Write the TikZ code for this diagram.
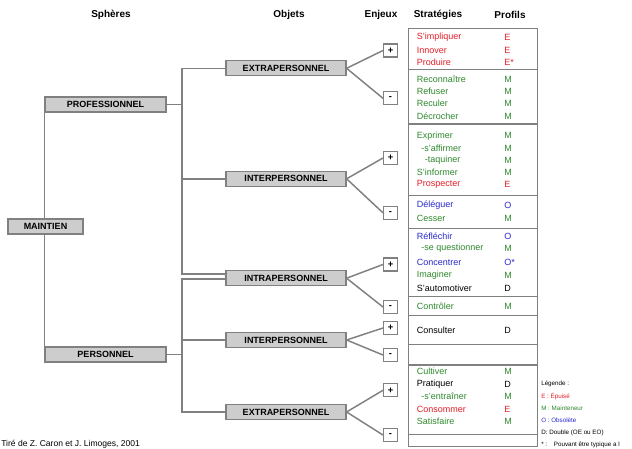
\documentclass[tikz,border=0pt]{standalone}
\usepackage{fontspec}
\setmainfont{Liberation Sans}
\usetikzlibrary{calc,backgrounds}
\definecolor{cred}{RGB}{226,30,40}
\definecolor{cgreen}{RGB}{45,135,45}
\definecolor{cblue}{RGB}{40,40,205}
\definecolor{lgray}{RGB}{128,128,128}
\definecolor{bfill}{RGB}{205,205,205}
\begin{document}
\begin{tikzpicture}[x=0.75pt,y=-0.75pt,
  conn/.style={draw=lgray, line width=1.1pt},
  obox/.style={draw=lgray, fill=bfill, line width=0.9pt, minimum height=11.25pt, inner sep=0pt, font=\fontsize{6.75}{8}\selectfont\bfseries},
  ebox/.style={draw=lgray, fill=white, line width=0.8pt, minimum width=10.5pt, minimum height=9.75pt, inner sep=0pt, font=\fontsize{7}{8}\selectfont\bfseries},
  head/.style={inner sep=0pt, font=\fontsize{7.5}{9}\selectfont\bfseries},
  strat/.style={anchor=west, inner sep=0pt, font=\fontsize{6.75}{8}\selectfont},
  pstyle/.style={anchor=west, inner sep=0pt, font=\fontsize{6.75}{8}\selectfont},
  rowbox/.style={draw=lgray, line width=1.1pt, minimum width=96.75pt, anchor=north west, inner sep=0pt},
  legend/.style={anchor=west, inner sep=0pt, font=\fontsize{4.7}{5}\selectfont}
]
\useasboundingbox (0,0) rectangle (632,449);

% headers
\node[head] (h1) at (111,15) {Sphères};
\node[head] (h2) at (289,15) {Objets};
\node[head] (h3) at (381,15) {Enjeux};
\node[head] (h4) at (438,15) {Stratégies};
\node[head] (h5) at (510,15) {Profils};

% tree boxes
\node[obox, minimum width=56.25pt] (maintien) at (45.5,226.5) {MAINTIEN};
\node[obox, minimum width=90.75pt] (prof) at (105.5,104.5) {PROFESSIONNEL};
\node[obox, minimum width=90.75pt] (pers) at (105.5,354.5) {PERSONNEL};
\node[obox, minimum width=90pt] (extra1) at (286,68.3) {EXTRAPERSONNEL};
\node[obox, minimum width=90pt] (inter1) at (286,178.8) {INTERPERSONNEL};
\node[obox, minimum width=90pt] (intra) at (286,278.2) {INTRAPERSONNEL};
\node[obox, minimum width=90pt] (inter2) at (286,340) {INTERPERSONNEL};
\node[obox, minimum width=90pt] (extra2) at (286,412) {EXTRAPERSONNEL};

% enjeux
\node[ebox] (e1p) at (390.5,50.5) {+};
\node[ebox] (e1m) at (390.5,98.3) {-};
\node[ebox] (i1p) at (390.5,158) {+};
\node[ebox] (i1m) at (390.5,212.8) {-};
\node[ebox] (ap) at (390.5,264.5) {+};
\node[ebox] (am) at (390.5,307) {-};
\node[ebox] (i2p) at (390.5,328) {+};
\node[ebox] (i2m) at (390.5,355) {-};
\node[ebox] (e2p) at (390.5,390.3) {+};
\node[ebox] (e2m) at (390.5,435) {-};

% connectors
\coordinate (pj) at (182,104.5);
\coordinate (qj) at (182,354.5);
\begin{scope}[on background layer]
\draw[conn] (prof.south west) -- (pers.north west);
\draw[conn] (prof.east) -- (pj);
\draw[conn] (extra1.west) -| (pj);
\draw[conn] (pj) |- ($(intra.west)+(0,-4)$);
\draw[conn] (inter1.west) -- (inter1.west -| pj);
\draw[conn] (pers.east) -- (qj);
\draw[conn] ($(intra.west)+(0,1)$) -| (qj);
\draw[conn] (inter2.west) -- (inter2.west -| qj);
\draw[conn] (extra2.west) -| (qj);
\end{scope}
\draw[conn] (extra1.east) -- (e1p.west);
\draw[conn] (extra1.east) -- (e1m.west);
\draw[conn] (inter1.east) -- (i1p.west);
\draw[conn] (inter1.east) -- (i1m.west);
\draw[conn] (intra.east) -- (ap.west);
\draw[conn] (intra.east) -- (am.west);
\draw[conn] (inter2.east) -- (i2p.west);
\draw[conn] (inter2.east) -- (i2m.west);
\draw[conn] (extra2.east) -- (e2p.west);
\draw[conn] (extra2.east) -- (e2m.west);

% strategy rows
\node[rowbox, minimum height=30.75pt] (r1) at (408,28) {};
\node[rowbox, minimum height=40.7pt] (r2) at (408,69) {};
\node[rowbox, minimum height=53.8pt] (r3) at (408,123.3) {};
\node[rowbox, minimum height=24.5pt] (r4) at (408,195) {};
\node[rowbox, minimum height=51.2pt] (r5) at (408,227.7) {};
\node[rowbox, minimum height=14.25pt] (r6) at (408,296) {};
\node[rowbox, minimum height=21.4pt] (r7) at (408,315) {};
\node[rowbox, minimum height=15.4pt] (r8) at (408,343.5) {};
\node[rowbox, minimum height=52.5pt] (r9) at (408,364) {};
\node[rowbox, minimum height=9pt] (r10) at (408,434) {};

% strategies and profiles
\node[strat,text=cred] (s1) at (416.5,37.3) {S'impliquer};
\node[pstyle,text=cred] (p1) at (504,37.3) {E};
\node[strat,text=cred] (s2) at (416.5,50) {Innover};
\node[pstyle,text=cred] (p2) at (504,50) {E};
\node[strat,text=cred] (s3) at (416.5,62.7) {Produire};
\node[pstyle,text=cred] (p3) at (504,62.7) {E*};

\node[strat,text=cgreen] (s4) at (416.5,79) {Reconnaître};
\node[pstyle,text=cgreen] (p4) at (504,79) {M};
\node[strat,text=cgreen] (s5) at (416.5,91.3) {Refuser};
\node[pstyle,text=cgreen] (p5) at (504,91.3) {M};
\node[strat,text=cgreen] (s6) at (416.5,103.7) {Reculer};
\node[pstyle,text=cgreen] (p6) at (504,103.7) {M};
\node[strat,text=cgreen] (s7) at (416.5,116) {Décrocher};
\node[pstyle,text=cgreen] (p7) at (504,116) {M};

\node[strat,text=cgreen] (s8) at (416.5,135.7) {Exprimer};
\node[pstyle,text=cgreen] (p8) at (504,135.7) {M};
\node[strat,text=cgreen] (s9) at (421,148) {-s'affirmer};
\node[pstyle,text=cgreen] (p9) at (504,148) {M};
\node[strat,text=cgreen] (s10) at (424.5,160) {-taquiner};
\node[pstyle,text=cgreen] (p10) at (504,160) {M};
\node[strat,text=cgreen] (s11) at (416.5,172.7) {S'informer};
\node[pstyle,text=cgreen] (p11) at (504,172.7) {M};
\node[strat,text=cred] (s12) at (416.5,184.3) {Prospecter};
\node[pstyle,text=cred] (p12) at (504,184.3) {E};

\node[strat,text=cblue] (s13) at (416.5,205) {Déléguer};
\node[pstyle,text=cblue] (p13) at (504,205) {O};
\node[strat,text=cgreen] (s14) at (416.5,218.3) {Cesser};
\node[pstyle,text=cgreen] (p14) at (504,218.3) {M};

\node[strat,text=cblue] (s15) at (416.5,236) {Réfléchir};
\node[pstyle,text=cblue] (p15) at (504,236) {O};
\node[strat,text=cgreen] (s16) at (421,248.3) {-se questionner};
\node[pstyle,text=cgreen] (p16) at (504,248.3) {M};
\node[strat,text=cblue] (s17) at (416.5,262.7) {Concentrer};
\node[pstyle,text=cblue] (p17) at (504,262.7) {O*};
\node[strat,text=cgreen] (s18) at (416.5,275.3) {Imaginer};
\node[pstyle,text=cgreen] (p18) at (504,275.3) {M};
\node[strat,text=black] (s19) at (416.5,288.3) {S'automotiver};
\node[pstyle,text=black] (p19) at (504,288.3) {D};

\node[strat,text=cgreen] (s20) at (416.5,306) {Contrôler};
\node[pstyle,text=cgreen] (p20) at (504,306) {M};

\node[strat,text=black] (s21) at (416.5,330.5) {Consulter};
\node[pstyle,text=black] (p21) at (504,330.5) {D};

\node[strat,text=cgreen] (s22) at (416.5,371.7) {Cultiver};
\node[pstyle,text=cgreen] (p22) at (504,371.7) {M};
\node[strat,text=black] (s23) at (416.5,384.3) {Pratiquer};
\node[pstyle,text=black] (p23) at (504,384.3) {D};
\node[strat,text=cgreen] (s24) at (421,396.5) {-s'entraîner};
\node[pstyle,text=cgreen] (p24) at (504,396.5) {M};
\node[strat,text=cred] (s25) at (416.5,409) {Consommer};
\node[pstyle,text=cred] (p25) at (504,409) {E};
\node[strat,text=cgreen] (s26) at (416.5,421.5) {Satisfaire};
\node[pstyle,text=cgreen] (p26) at (504,421.5) {M};

% legend
\node[legend] (l1) at (541,384) {Légende :};
\node[legend,text=cred] (l2) at (541,396) {E : Épuisé};
\node[legend,text=cgreen] (l3) at (541,408.5) {M : Mainteneur};
\node[legend,text=cblue] (l4) at (541,420.5) {O : Obsolète};
\node[legend] (l5) at (541,432.5) {D: Double (OE ou EO)};
\node[legend] (l6) at (541,444.5) {* :\hspace{5pt}Pouvant être typique a l};

% credit
\node[anchor=west, inner sep=0pt, font=\fontsize{6.4}{8}\selectfont] (credit) at (1,444) {Tiré de Z. Caron et J. Limoges, 2001};
\end{tikzpicture}
\end{document}
